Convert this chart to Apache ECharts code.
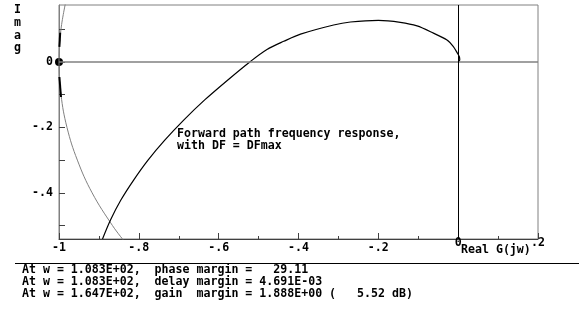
<!DOCTYPE html>
<html>
<head>
<meta charset="utf-8">
<script src="https://cdn.jsdelivr.net/npm/echarts@6/dist/echarts.min.js"></script>
<style>
  html, body { margin: 0; padding: 0; background: #fff; }
  #main { width: 579px; height: 311px; }
</style>
</head>
<body>
<div id="main"></div>
<script>
// forward path frequency response (Re, Im), high w -> low w
var nyquistPoints = [
    [0.0, 0.0], [0.004, 0.006], [0.003, 0.016], [-0.002, 0.027], [-0.012, 0.047],
    [-0.028, 0.067], [-0.062, 0.088], [-0.103, 0.110], [-0.145, 0.121], [-0.2, 0.127],
    [-0.27, 0.122], [-0.312, 0.113], [-0.395, 0.085], [-0.437, 0.063], [-0.479, 0.038],
    [-0.522, 0.0], [-0.577, -0.055], [-0.635, -0.116], [-0.687, -0.177], [-0.735, -0.239],
    [-0.777, -0.300], [-0.813, -0.361], [-0.845, -0.422], [-0.871, -0.483], [-0.891, -0.541]
];
// unit circle arc near the critical point
var circlePoints = [
    [-0.982, 0.19], [-0.995, 0.1], [-1.0, 0.0], [-0.995, -0.1], [-0.98, -0.2],
    [-0.954, -0.3], [-0.917, -0.4], [-0.866, -0.5], [-0.835, -0.55]
];
var markUpper = [[-0.997, 0.089], [-0.999, 0.046]];
var markLower = [[-0.999, -0.046], [-0.995, -0.107]];
var criticalPoint = [[-1, 0]];

var xMinLabels = [-1, -0.8, -0.6, -0.4, -0.2];
var xUpLabels = [0, 0.2];
var yLabels = [0, -0.2, -0.4];
var yTicks = [0.1, 0, -0.1, -0.2, -0.3, -0.4, -0.5];

var infoLines = [
    'At w = 1.083E+02,  phase margin =   29.11',
    'At w = 1.083E+02,  delay margin = 4.691E-03',
    'At w = 1.647E+02,  gain  margin = 1.888E+00 (   5.52 dB)'
];
var noteLines = ['Forward path frequency response,', 'with DF = DFmax'];

var FONT = '"DejaVu Sans Mono", "Liberation Mono", monospace';

function fmt(v) {
    var r = Math.round(v * 10) / 10;
    if (r === 0) return '0';
    var s = String(Math.abs(r)).replace(/^0/, '');
    return (r < 0 ? '-' : '') + s;
}
function inList(v, list) {
    for (var i = 0; i < list.length; i++) {
        if (Math.abs(list[i] - v) < 1e-6) return true;
    }
    return false;
}

var labelStyle = { color: '#000', fontFamily: FONT, fontWeight: 'bold', fontSize: 11.6 };

var chart = echarts.init(document.getElementById('main'));
chart.setOption({
    animation: false,
    backgroundColor: '#fff',
    grid: {
        left: 59, right: 41, top: 5, bottom: 72,
        show: true, borderColor: '#808080', borderWidth: 1
    },
    xAxis: [
        {
            type: 'value', min: -1, max: 0.2, interval: 0.2, position: 'bottom',
            axisLine: { show: true, onZero: false, lineStyle: { color: '#404040', width: 1 } },
            axisTick: { show: true, inside: true, length: 6, lineStyle: { color: '#404040' } },
            minorTick: { show: true, splitNumber: 2, length: 3, lineStyle: { color: '#404040' } },
            splitLine: { show: false },
            axisLabel: Object.assign({
                margin: 3,
                formatter: function (v) { return inList(v, xMinLabels) ? fmt(v) : ''; }
            }, labelStyle)
        },
        {
            type: 'value', min: -1, max: 0.2, interval: 0.2, position: 'bottom',
            axisLine: { show: false, onZero: false }, axisTick: { show: false }, splitLine: { show: false },
            axisLabel: Object.assign({
                margin: -2,
                formatter: function (v) { return inList(v, xUpLabels) ? fmt(v) : ''; }
            }, labelStyle)
        }
    ],
    yAxis: {
        type: 'value', min: -0.541, max: 0.174, position: 'left',
        axisLine: { show: true, onZero: false, lineStyle: { color: '#808080', width: 1 } },
        axisTick: { show: true, inside: true, length: 6, customValues: yTicks, lineStyle: { color: '#404040' } },
        splitLine: { show: false },
        axisLabel: Object.assign({
            margin: 6, customValues: yLabels,
            formatter: function (v) { return fmt(v); }
        }, labelStyle)
    },
    graphic: [
        {
            type: 'text', left: 14, top: 4,
            style: { text: 'I\nm\na\ng', fill: '#000', font: 'bold 11.6px ' + FONT, lineHeight: 12.7, align: 'center' }
        },
        {
            type: 'text', left: 461, top: 244,
            style: { text: 'Real G(jw)', fill: '#000', font: 'bold 11.6px ' + FONT }
        },
        {
            type: 'text', left: 177, top: 128,
            style: { text: noteLines.join('\n'), fill: '#000', font: 'bold 11.6px ' + FONT, lineHeight: 11.5 }
        },
        {
            type: 'line', shape: { x1: 15, y1: 263.5, x2: 579, y2: 263.5 },
            style: { stroke: '#000', lineWidth: 1 }
        },
        {
            type: 'text', left: 22, top: 263.5,
            style: { text: infoLines.join('\n'), fill: '#000', font: 'bold 11.6px ' + FONT, lineHeight: 12 }
        }
    ],
    series: [
        {
            name: 'unit circle', type: 'line', data: circlePoints, smooth: 0.4,
            showSymbol: false, clip: true,
            lineStyle: { color: '#808080', width: 1 }
        },
        {
            name: 'G(jw)', type: 'line', data: nyquistPoints, smooth: 0.3,
            showSymbol: false, clip: true,
            lineStyle: { color: '#000', width: 1.2 },
            markLine: {
                silent: true, symbol: 'none', label: { show: false },
                data: [
                    { yAxis: 0, lineStyle: { color: '#808080', width: 1.5, type: 'solid' } },
                    { xAxis: 0, lineStyle: { color: '#000', width: 1, type: 'solid' } }
                ]
            }
        },
        {
            type: 'line', data: markUpper, showSymbol: false,
            lineStyle: { color: '#000', width: 2 }
        },
        {
            type: 'line', data: markLower, showSymbol: false,
            lineStyle: { color: '#000', width: 2 }
        },
        {
            type: 'scatter', data: criticalPoint, symbol: 'circle', symbolSize: 8,
            itemStyle: { color: '#000', opacity: 1, borderWidth: 0 }
        }
    ]
});
</script>
</body>
</html>
